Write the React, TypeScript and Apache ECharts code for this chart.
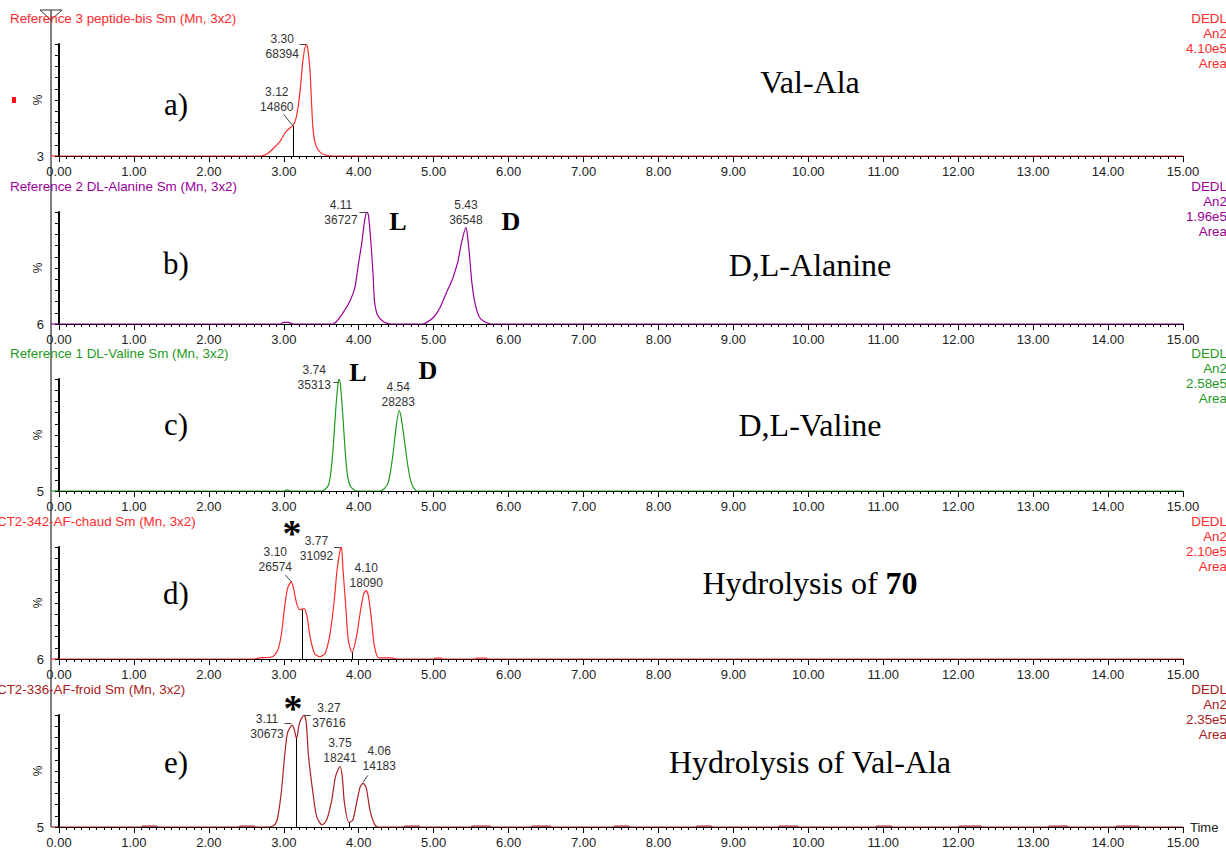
import React, { useEffect, useRef } from "react";
import * as echarts from "echarts";

// ---------------- DATA ----------------
const panelTitles = [
  "Reference 3 peptide-bis Sm (Mn, 3x2)",
  "Reference 2 DL-Alanine Sm (Mn, 3x2)",
  "Reference 1 DL-Valine Sm (Mn, 3x2)",
  "CT2-342-AF-chaud Sm (Mn, 3x2)",
  "CT2-336-AF-froid Sm (Mn, 3x2)",
];
const panelLetters = ["a)", "b)", "c)", "d)", "e)"];
const compoundNames = ["Val-Ala", "D,L-Alanine", "D,L-Valine", "Hydrolysis of ", "Hydrolysis of Val-Ala"];
const compoundBold = ["", "", "", "70", ""];
const intensities = ["4.10e5", "1.96e5", "2.58e5", "2.10e5", "2.35e5"];
const zeroLabels = ["3", "6", "5", "6", "5"];
const rightLines = ["DEDL", "An2", "", "Area"];

// retention time (min), relative intensity (%)
const traceA: [number, number][] = [
  [0, 0], [2.7, 0], [2.78, 2], [2.85, 6], [2.95, 13], [3.02, 21], [3.08, 25], [3.12, 27],
  [3.16, 33], [3.2, 48], [3.23, 67], [3.26, 88], [3.3, 100], [3.32, 96], [3.35, 76],
  [3.37, 48], [3.39, 24], [3.43, 9], [3.49, 3], [3.57, 0.5], [3.65, 0], [15, 0],
];
const traceB: [number, number][] = [
  [0, 0], [2.95, 0], [3.0, 1.5], [3.06, 1.5], [3.12, 0], [3.65, 0], [3.7, 2], [3.79, 10],
  [3.88, 20], [3.95, 33], [3.99, 51], [4.04, 72], [4.08, 93], [4.11, 100], [4.13, 97],
  [4.16, 75], [4.19, 46], [4.21, 21], [4.25, 8], [4.33, 2], [4.43, 0], [4.85, 0], [4.9, 1],
  [5.0, 6], [5.08, 14], [5.17, 28], [5.25, 40], [5.32, 55], [5.37, 72], [5.43, 86],
  [5.45, 80], [5.48, 60], [5.51, 37], [5.55, 19], [5.61, 6], [5.68, 2], [5.77, 0], [15, 0],
];
const traceC: [number, number][] = [
  [0, 0], [3.0, 0], [3.05, 1], [3.1, 0], [3.5, 0], [3.56, 2], [3.6, 6], [3.63, 18],
  [3.66, 40], [3.69, 70], [3.72, 94], [3.74, 100], [3.76, 92], [3.79, 65], [3.82, 35],
  [3.85, 14], [3.89, 4], [3.94, 1], [3.98, 0], [4.28, 0], [4.34, 2], [4.39, 7], [4.43, 20],
  [4.47, 40], [4.5, 58], [4.54, 72], [4.57, 64], [4.61, 45], [4.65, 25], [4.69, 10],
  [4.73, 3], [4.78, 0], [15, 0],
];
const traceD: [number, number][] = [
  [0, 0], [2.6, 0], [2.68, 1], [2.85, 2], [2.92, 8], [2.97, 23], [3.01, 46], [3.05, 63],
  [3.1, 69], [3.13, 63], [3.17, 50], [3.21, 44], [3.27, 45], [3.31, 38], [3.35, 20],
  [3.41, 5], [3.48, 2], [3.55, 5], [3.61, 20], [3.67, 50], [3.71, 79], [3.75, 97],
  [3.77, 100], [3.79, 80], [3.83, 44], [3.86, 17], [3.91, 6], [3.97, 20], [4.03, 46],
  [4.07, 59], [4.1, 61], [4.13, 56], [4.17, 35], [4.21, 11], [4.27, 1], [4.44, 1], [4.5, 0],
  [5.0, 0], [5.02, 0.8], [5.1, 0.8], [5.12, 0], [5.55, 0], [5.57, 0.8], [5.7, 0.8], [5.72, 0],
  [15, 0],
];
const traceE: [number, number][] = [
  [0, 0], [1.1, 0], [1.12, 0.8], [1.3, 0.8], [1.32, 0], [2.4, 0], [2.42, 0.8], [2.6, 0.8],
  [2.62, 0], [2.8, 0], [2.88, 2], [2.92, 9], [2.97, 33], [3.01, 63], [3.05, 84], [3.11, 91],
  [3.14, 87], [3.17, 79], [3.21, 93], [3.27, 100], [3.3, 93], [3.33, 63], [3.39, 30],
  [3.44, 9], [3.51, 2], [3.57, 6], [3.64, 24], [3.69, 45], [3.75, 54], [3.78, 45],
  [3.81, 21], [3.87, 4], [3.92, 6], [3.97, 21], [4.02, 36], [4.06, 39], [4.1, 35],
  [4.15, 15], [4.2, 4], [4.25, 0], [4.6, 0], [4.62, 0.8], [4.8, 0.8], [4.82, 0],
  [5.5, 0], [5.52, 0.8], [5.75, 0.8], [5.77, 0], [6.3, 0], [6.32, 0.8], [6.55, 0.8],
  [6.57, 0], [7.4, 0], [7.42, 0.8], [7.6, 0.8], [7.62, 0], [8.5, 0], [8.52, 0.8],
  [8.7, 0.8], [8.72, 0], [9.6, 0], [9.62, 0.8], [9.85, 0.8], [9.87, 0], [10.9, 0],
  [10.92, 0.8], [11.1, 0.8], [11.12, 0], [12.0, 0], [12.02, 0.8], [12.3, 0.8], [12.32, 0],
  [13.2, 0], [13.22, 0.8], [13.45, 0.8], [13.47, 0], [14.1, 0], [14.12, 0.8], [14.4, 0.8],
  [14.42, 0], [15, 0],
];

// peaks: [time, height %, area]
const peaksA: [number, number, number][] = [[3.3, 100, 68394], [3.12, 27, 14860]];
const peaksB: [number, number, number][] = [[4.11, 100, 36727], [5.43, 86, 36548]];
const peaksC: [number, number, number][] = [[3.74, 100, 35313], [4.54, 72, 28283]];
const peaksD: [number, number, number][] = [[3.1, 69, 26574], [3.77, 100, 31092], [4.1, 61, 18090]];
const peaksE: [number, number, number][] = [[3.11, 91, 30673], [3.27, 100, 37616], [3.75, 54, 18241], [4.06, 39, 14183]];

// integration drop lines: [time, height %]
const dropsA: [number, number][] = [[3.12, 27]];
const dropsD: [number, number][] = [[3.24, 44], [3.92, 6]];
const dropsE: [number, number][] = [[3.17, 79], [3.87, 4]];

// ---------------- LAYOUT / STYLE ----------------
const SANS = "'Liberation Sans', Arial, sans-serif";
const SERIF = "'Liberation Serif', 'Times New Roman', serif";
const BASELINES = [156, 324, 491, 659, 827];
const PLOT_H = 112;
const GRID_LEFT = 59;
const GRID_RIGHT = 43;
const COLORS = ["#ff2a2a", "#990099", "#1f9a1f", "#ff2a2a", "#a82020"];
const TITLE_X = [10, 10, 10, -3, -3];
const LETTER_Y = [104, 263, 424, 593, 762];
const NAME_Y = [82, 265, 425, 583, 762];
const labelOffsets: [number, number][][] = [
  [[-24, 2], [-16, -26]],
  [[-26, 0], [0, -15]],
  [[-25, -2], [-1, -16]],
  [[-16, -22], [-25, 1], [0, -15]],
  [[-25, 1], [25, 0], [0, -16], [16, -25]],
];
const leaders: [number, number][][][] = [
  [[[3.21, 100], [3.3, 100]], [[3.0, 37], [3.12, 27]]],
  [[[4.01, 100], [4.11, 100]]],
  [[[3.66, 97], [3.73, 97]]],
  [[[3.02, 75], [3.1, 69]], [[3.67, 100], [3.76, 100]]],
  [[[3.01, 93], [3.1, 93]], [[3.27, 100], [3.36, 100]], [[4.12, 46], [4.06, 40]]],
];
const letterMarks = [
  [] as { t: string; x: number; y: number; size: number }[],
  [{ t: "L", x: 398, y: 221, size: 26 }, { t: "D", x: 511, y: 221, size: 26 }],
  [{ t: "L", x: 358, y: 372, size: 26 }, { t: "D", x: 428, y: 370, size: 26 }],
  [{ t: "*", x: 292, y: 533, size: 38 }],
  [{ t: "*", x: 293, y: 708, size: 38 }],
];

const traces = [traceA, traceB, traceC, traceD, traceE];
const peaks = [peaksA, peaksB, peaksC, peaksD, peaksE];
const drops = [dropsA, [] as [number, number][], [] as [number, number][], dropsD, dropsE];

function buildOption() {
  const idx = [0, 1, 2, 3, 4];
  const grid = idx.map((i) => ({
    left: GRID_LEFT,
    right: GRID_RIGHT,
    top: BASELINES[i] - PLOT_H,
    height: PLOT_H,
    containLabel: false,
  }));
  const xAxis = idx.map((i) => ({
    type: "value",
    gridIndex: i,
    min: 0,
    max: 15,
    interval: 1,
    name: i === 4 ? "Time" : "",
    nameLocation: "end",
    nameGap: 7,
    nameTextStyle: { fontFamily: SANS, fontSize: 13, color: "#222", verticalAlign: "middle" },
    axisLine: { show: true, onZero: false, lineStyle: { color: "#000", width: 1 } },
    axisTick: { show: true, length: 6, lineStyle: { color: "#000", width: 1 } },
    minorTick: { show: true, splitNumber: 10, length: 3, lineStyle: { color: "#000", width: 1 } },
    splitLine: { show: false },
    minorSplitLine: { show: false },
    axisLabel: {
      fontFamily: SANS,
      fontSize: 13,
      color: "#222",
      margin: 9,
      formatter: (v: number) => v.toFixed(2),
    },
  }));
  const yAxis = idx.map((i) => ({
    type: "value",
    gridIndex: i,
    min: 0,
    max: 100,
    interval: 10,
    offset: 8,
    axisLine: { show: true, lineStyle: { color: "#000", width: 2 } },
    axisTick: { show: true, length: 4, lineStyle: { color: "#000", width: 1 } },
    splitLine: { show: false },
    axisLabel: {
      fontFamily: SANS,
      fontSize: 13,
      color: "#222",
      margin: 7,
      formatter: (v: number) => (v === 0 ? zeroLabels[i] : ""),
    },
  }));
  const series = idx.map((i) => {
    const lineData: any[] = [];
    drops[i].forEach(([t, p]) => {
      lineData.push([{ coord: [t, p] }, { coord: [t, 0] }]);
    });
    leaders[i].forEach(([a, b]) => {
      lineData.push([
        { coord: a, lineStyle: { color: "#444", width: 1 } },
        { coord: b },
      ]);
    });
    return {
      type: "line",
      xAxisIndex: i,
      yAxisIndex: i,
      data: traces[i],
      showSymbol: false,
      symbol: "none",
      smooth: 0.25,
      lineStyle: { color: COLORS[i], width: 1.2 },
      z: 3,
      markLine: {
        silent: true,
        symbol: ["none", "none"],
        label: { show: false },
        lineStyle: { color: "#000", width: 1, type: "solid" },
        data: lineData,
      },
      markPoint: {
        silent: true,
        symbol: "circle",
        symbolSize: 1,
        itemStyle: { color: "rgba(0,0,0,0)" },
        label: {
          show: true,
          position: "inside",
          fontFamily: SANS,
          fontSize: 12,
          lineHeight: 15,
          color: "#333",
          align: "center",
          verticalAlign: "middle",
        },
        data: peaks[i].map(([t, p, area], k) => ({
          coord: [t, p],
          value: area,
          label: {
            formatter: t.toFixed(2) + "\n" + String(area),
            offset: labelOffsets[i][k],
          },
        })),
      },
    };
  });

  const elements: any[] = [];
  elements.push({
    type: "line",
    shape: { x1: 51, y1: 10, x2: 51, y2: BASELINES[4] },
    style: { stroke: "#000", lineWidth: 1 },
  });
  elements.push({
    type: "polygon",
    shape: { points: [[40, 10], [62, 10], [51, 20]] },
    style: { fill: "none", stroke: "#333", lineWidth: 1 },
  });
  elements.push({ type: "rect", shape: { x: 12, y: 97, width: 4, height: 6 }, style: { fill: "#ff1010" } });

  idx.forEach((i) => {
    const b = BASELINES[i];
    elements.push({
      type: "line",
      shape: { x1: 51, y1: b, x2: GRID_LEFT, y2: b },
      style: { stroke: COLORS[i], lineWidth: 1.2 },
    });
    elements.push({
      type: "text",
      x: 38,
      y: b - 56,
      rotation: Math.PI / 2,
      style: {
        text: "%",
        fill: "#222",
        fontFamily: SANS,
        fontSize: 12,
        textAlign: "center",
        textVerticalAlign: "middle",
      },
    });
    elements.push({
      type: "text",
      x: TITLE_X[i],
      y: b - 138,
      style: {
        text: panelTitles[i],
        fill: COLORS[i],
        fontFamily: SANS,
        fontSize: 13.4,
        textAlign: "left",
        textVerticalAlign: "middle",
      },
    });
    rightLines.forEach((s, k) => {
      elements.push({
        type: "text",
        x: 1227,
        y: b - 138 + k * 15,
        style: {
          text: k === 2 ? intensities[i] : s,
          fill: COLORS[i],
          fontFamily: SANS,
          fontSize: 13.4,
          textAlign: "right",
          textVerticalAlign: "middle",
        },
      });
    });
    elements.push({
      type: "text",
      x: 176,
      y: LETTER_Y[i],
      style: {
        text: panelLetters[i],
        fill: "#000",
        fontFamily: SERIF,
        fontSize: 31,
        textAlign: "center",
        textVerticalAlign: "middle",
      },
    });
    elements.push({
      type: "text",
      x: 810,
      y: NAME_Y[i],
      style: {
        text: "{n|" + compoundNames[i] + "}" + (compoundBold[i] ? "{b|" + compoundBold[i] + "}" : ""),
        rich: {
          n: { fontFamily: SERIF, fontSize: 32, fill: "#000", color: "#000" },
          b: { fontFamily: SERIF, fontSize: 32, fontWeight: "bold", fill: "#000", color: "#000" },
        },
        fill: "#000",
        textAlign: "center",
        textVerticalAlign: "middle",
      },
    });
    letterMarks[i].forEach((m) => {
      elements.push({
        type: "text",
        x: m.x,
        y: m.y,
        style: {
          text: m.t,
          fill: "#000",
          fontFamily: SERIF,
          fontWeight: "bold",
          fontSize: m.size,
          textAlign: "center",
          textVerticalAlign: "middle",
        },
      });
    });
  });

  return {
    animation: false,
    backgroundColor: "#fff",
    grid,
    xAxis,
    yAxis,
    series,
    graphic: { elements },
  };
}

export default function App() {
  const ref = useRef<HTMLDivElement>(null);
  useEffect(() => {
    if (!ref.current) return;
    const chart = echarts.init(ref.current, undefined, { renderer: "svg" });
    chart.setOption(buildOption() as any);
    return () => chart.dispose();
  }, []);
  return (
    <div
      ref={ref}
      style={{ position: "absolute", left: 0, top: 0, width: 1226, height: 850, background: "#fff" }}
    />
  );
}
